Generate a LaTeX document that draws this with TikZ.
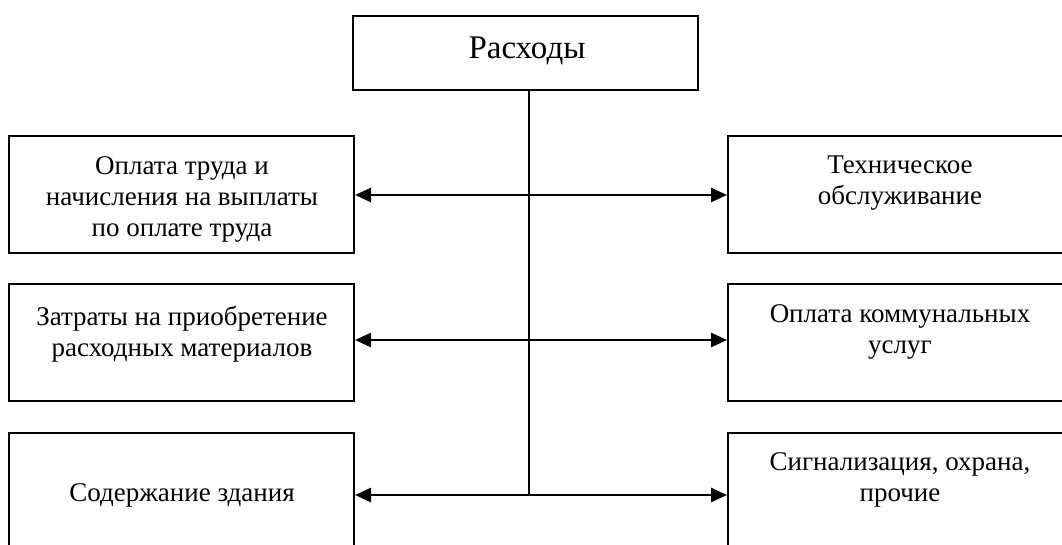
\documentclass[tikz,border=0pt]{standalone}
\usepackage{fontspec}
\setmainfont{Liberation Serif}
\usetikzlibrary{arrows.meta}
\tikzset{
  box/.style={draw=black, line width=2pt, minimum width=345pt, minimum height=117pt, inner sep=0pt},
  topbox/.style={draw=black, line width=2pt, minimum width=345pt, minimum height=74pt, inner sep=0pt},
  lbl/.style={align=center, inner sep=0pt, font=\fontsize{27}{31}\selectfont},
  conn/.style={line width=2.6pt, {Triangle[length=16pt,width=14pt]}-{Triangle[length=16pt,width=14pt]}},
  stem/.style={line width=1.8pt}
}
\begin{document}
\begin{tikzpicture}[x=1pt,y=-1pt]
\useasboundingbox (0,0) rectangle (1062,544);
% boxes
\node[topbox] (top) at (525.5,53) {};
\node[box] (L1) at (181.5,194.5) {};
\node[box] (L2) at (181.5,342.5) {};
\node[box] (L3) at (181.5,491.5) {};
\node[box] (R1) at (900.5,194.5) {};
\node[box] (R2) at (900.5,342.5) {};
\node[box] (R3) at (900.5,491.5) {};
% texts
\node[inner sep=0pt, font=\fontsize{33}{36}\selectfont] (tt) at (527,51) {Расходы};
\node[lbl] (tL1) at (182,199) {Оплата труда и\\начисления на выплаты\\по оплате труда};
\node[lbl] (tL2) at (182,334) {Затраты на приобретение\\расходных материалов};
\node[lbl] (tL3) at (182,495) {Содержание здания};
\node[lbl] (tR1) at (900,183) {Техническое\\обслуживание};
\node[lbl] (tR2) at (900,332) {Оплата коммунальных\\услуг};
\node[lbl] (tR3) at (900,480) {Сигнализация, охрана,\\прочие};
% connectors
\coordinate (j1) at (529,195);
\coordinate (j2) at (529,340);
\coordinate (j3) at (529,495);
\draw[stem] (top.south -| j3) -- (j3);
\draw[conn] (L1.east |- j1) -- (R1.west |- j1);
\draw[conn] (L2.east |- j2) -- (R2.west |- j2);
\draw[conn] (L3.east |- j3) -- (R3.west |- j3);
\end{tikzpicture}
\end{document}
